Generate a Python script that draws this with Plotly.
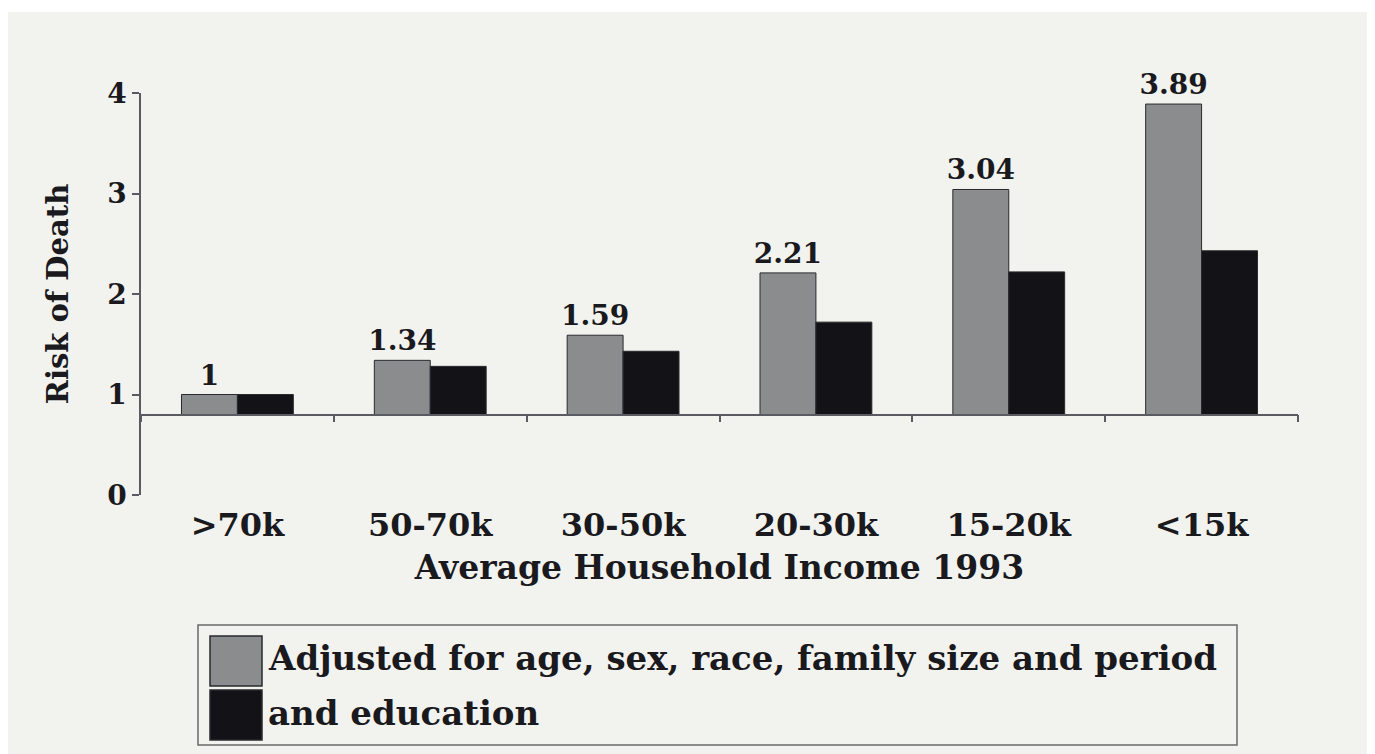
import plotly.graph_objects as go

categories = [">70k", "50-70k", "30-50k", "20-30k", "15-20k", "<15k"]
adjusted = [1.00, 1.34, 1.59, 2.21, 3.04, 3.89]
with_education = [1.00, 1.28, 1.43, 1.72, 2.22, 2.43]
value_labels = ["1", "1.34", "1.59", "2.21", "3.04", "3.89"]
series_names = ["Adjusted for age, sex, race, family size and period", "and education"]
series_colors = ["#8a8c8d", "#131317"]
y_ticks = [0, 1, 2, 3, 4]
baseline = 0.8

FONT = "DejaVu Serif"
INK = "#1a1a1e"

fig = go.Figure()
for vals, name, col, txt in [
    (adjusted, series_names[0], series_colors[0], value_labels),
    (with_education, series_names[1], series_colors[1], None),
]:
    fig.add_trace(go.Bar(
        x=categories,
        y=[v - baseline for v in vals],
        base=baseline,
        name=name,
        marker=dict(color=col, line=dict(color="#2a2a2e", width=1)),
        text=txt,
        textposition="outside" if txt else "none",
        constraintext="none",
        textfont=dict(family=FONT, size=28, color=INK, weight="bold"),
        cliponaxis=False,
        showlegend=False,
        hoverinfo="skip",
    ))

# invisible helper trace for the baseline axis
fig.add_trace(go.Scatter(x=categories, y=adjusted, xaxis="x2", mode="none",
                         showlegend=False, hoverinfo="skip"))

OFF = 8  # page offset of the figure inside the browser window
W, H = 1367, 746
L, T = 141 - OFF, 93 - OFF
B = H - (495 - OFF)
R = W - (1298 - OFF)
pw, ph = W - L - R, H - T - B

def px_x(p):
    return (p - OFF - L) / pw

def px_y(p):
    return (H - B - (p - OFF)) / ph

shapes = [
    # photo background
    dict(type="rect", xref="paper", yref="paper", x0=px_x(8), x1=px_x(1370),
         y0=px_y(760), y1=px_y(12), fillcolor="#f2f2ee", line=dict(width=0), layer="below"),
    # legend box
    dict(type="rect", xref="paper", yref="paper", x0=px_x(198), x1=px_x(1237),
         y0=px_y(745), y1=px_y(625), fillcolor="rgba(0,0,0,0)", line=dict(color="#6a6a6a", width=1.5)),
    dict(type="rect", xref="paper", yref="paper", x0=px_x(210), x1=px_x(262),
         y0=px_y(686), y1=px_y(636), fillcolor=series_colors[0], line=dict(color="#2a2a2e", width=1.5)),
    dict(type="rect", xref="paper", yref="paper", x0=px_x(210), x1=px_x(262),
         y0=px_y(740), y1=px_y(690), fillcolor=series_colors[1], line=dict(color="#2a2a2e", width=1.5)),
]

annotations = [
    dict(xref="paper", yref="paper", x=px_x(266), y=px_y(658), xanchor="left", yanchor="middle",
         text=series_names[0], showarrow=False,
         font=dict(family=FONT, size=34, color=INK, weight="bold")),
    dict(xref="paper", yref="paper", x=px_x(266), y=px_y(713), xanchor="left", yanchor="middle",
         text=series_names[1], showarrow=False,
         font=dict(family=FONT, size=34, color=INK, weight="bold")),
]

fig.update_layout(
    width=W, height=H,
    margin=dict(l=L, r=R, t=T, b=B),
    paper_bgcolor="#ffffff",
    plot_bgcolor="rgba(0,0,0,0)",
    barmode="group",
    bargap=0.42,
    bargroupgap=0,
    shapes=shapes,
    annotations=annotations,
    xaxis=dict(
        type="category", range=[-0.5, 5.5], showline=False, showgrid=False, zeroline=False,
        ticks="", ticklabelstandoff=8,
        tickfont=dict(family=FONT, size=32, color=INK, weight="bold"),
        title=dict(text="Average Household Income 1993", standoff=12,
                   font=dict(family=FONT, size=33, color=INK, weight="bold")),
    ),
    xaxis2=dict(
        type="category", range=[-0.5, 5.5], overlaying="x", anchor="free",
        position=baseline / 4.0, side="bottom",
        showline=True, linecolor="#5a5a62", linewidth=1.5,
        ticks="outside", tickson="boundaries", ticklen=7, tickcolor="#5a5a62", tickwidth=1.5,
        showticklabels=False, showgrid=False, zeroline=False,
    ),
    yaxis=dict(
        range=[0, 4.0], tickvals=y_ticks, showgrid=False, zeroline=False,
        showline=True, linecolor="#5a5a62", linewidth=1.5,
        ticks="outside", ticklen=7, tickcolor="#5a5a62", tickwidth=1.5,
        tickfont=dict(family=FONT, size=28, color=INK, weight="bold"),
        title=dict(text="Risk of Death", standoff=30,
                   font=dict(family=FONT, size=29, color=INK, weight="bold")),
    ),
)

fig.write_html("out.html")
